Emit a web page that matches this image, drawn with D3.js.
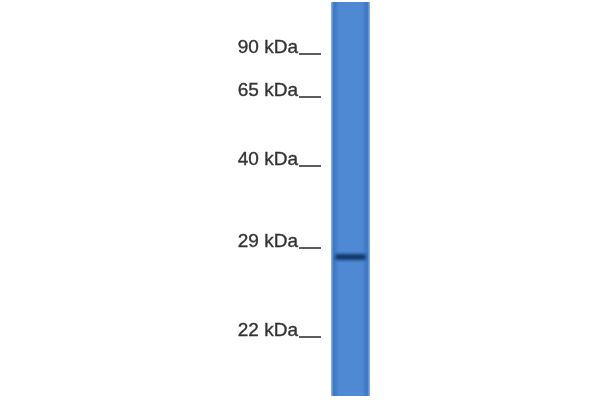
<!DOCTYPE html>
<html>
<head>
<meta charset="utf-8">
<script src="https://cdn.jsdelivr.net/npm/d3@7"></script>
<style>
  body { margin: 0; background: #fff; }
  svg { display: block; }
</style>
</head>
<body>
<svg id="blot" width="600" height="400"></svg>
<script>
// marker ladder (kDa) and its labels
const markerKDa = [90, 65, 40, 29, 22];
const markerLabels = ["90 kDa", "65 kDa", "40 kDa", "29 kDa", "22 kDa"];
// detected band(s) in the single lane
const bandKDa = [28.3];
const bandStrength = [0.95];

const config = {
    width: 600, height: 400,
    lane: { x0: 331, x1: 370, top: 2, bottom: 396 },
    // gel migration is not log-linear here, so a piecewise scale
    ladderRange: [54, 97, 166, 248, 337],
    tick: { x0: 299, x1: 321 },
    colors: { lane: "#4f88d3", laneEdge: "#3d74bf", band: "#123463", text: "#333" }
};

const svg = d3.select("#blot");
const defs = svg.append("defs");

const y = d3.scaleLinear().domain(markerKDa).range(config.ladderRange);

const lg = defs.append("linearGradient").attr("id", "laneGrad").attr("x1", 0).attr("x2", 1).attr("y1", 0).attr("y2", 0);
lg.append("stop").attr("offset", 0).attr("stop-color", "#8fbbeb");
lg.append("stop").attr("offset", 0.07).attr("stop-color", config.colors.laneEdge);
lg.append("stop").attr("offset", 0.2).attr("stop-color", config.colors.lane);
lg.append("stop").attr("offset", 0.8).attr("stop-color", config.colors.lane);
lg.append("stop").attr("offset", 0.93).attr("stop-color", config.colors.laneEdge);
lg.append("stop").attr("offset", 1).attr("stop-color", "#8fbbeb");

defs.append("filter").attr("id", "soft").attr("x", "-20%").attr("y", "-200%").attr("width", "140%").attr("height", "500%")
    .append("feGaussianBlur").attr("stdDeviation", "1.5 1.4");
defs.append("filter").attr("id", "txtBlur")
    .append("feGaussianBlur").attr("stdDeviation", 0.5);

const L = config.lane;
svg.append("rect")
    .attr("x", L.x0).attr("y", L.top)
    .attr("width", L.x1 - L.x0).attr("height", L.bottom - L.top)
    .attr("fill", "url(#laneGrad)");

// bands
svg.selectAll(".band").data(bandKDa).enter().append("rect")
    .attr("class", "band")
    .attr("x", L.x0 + 4).attr("width", L.x1 - L.x0 - 8)
    .attr("y", d => y(d) - 3).attr("height", 6)
    .attr("rx", 2.5)
    .attr("fill", config.colors.band)
    .attr("fill-opacity", (d, i) => bandStrength[i])
    .attr("filter", "url(#soft)");

// marker labels + tick underscores
const markers = svg.selectAll(".marker").data(markerKDa).enter().append("g").attr("class", "marker")
    .attr("filter", "url(#txtBlur)");

markers.append("text")
    .attr("x", config.tick.x0 - 1).attr("y", d => y(d) - 1)
    .attr("text-anchor", "end")
    .attr("font-family", "Liberation Sans, Arial, sans-serif")
    .attr("font-size", 19)
    .attr("fill", config.colors.text)
    .attr("stroke", config.colors.text).attr("stroke-width", 0.35)
    .text((d, i) => markerLabels[i]);

markers.append("line")
    .attr("x1", config.tick.x0).attr("x2", config.tick.x1)
    .attr("y1", d => y(d)).attr("y2", d => y(d))
    .attr("stroke", config.colors.text).attr("stroke-width", 1.6);
</script>
</body>
</html>
